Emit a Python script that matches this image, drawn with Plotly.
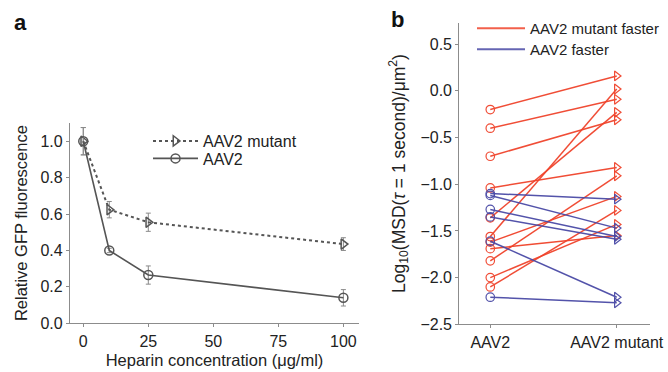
import plotly.graph_objects as go

# ---------- Panel a data ----------
heparin = [0, 10, 25, 100]
mutant_gfp = [1.0, 0.624, 0.555, 0.435]
mutant_err = [0.075, 0.045, 0.05, 0.035]
aav2_gfp = [1.0, 0.40, 0.265, 0.14]
aav2_err = [0.075, 0.012, 0.05, 0.045]
a_xticks = [0, 25, 50, 75, 100]
a_yticks = [0.0, 0.2, 0.4, 0.6, 0.8, 1.0]

# ---------- Panel b data ----------
b_categories = ["AAV2", "AAV2 mutant"]
red_aav2 = [-0.20, -0.40, -0.70, -1.04, -1.36, -1.56, -1.62, -1.69, -1.82, -2.00, -2.10]
red_mutant = [0.16, -0.09, -0.31, -0.82, -0.23, 0.02, -1.13, -1.55, -0.91, -1.43, -1.28]
blue_aav2 = [-1.10, -1.12, -1.27, -1.35, -1.61, -2.21]
blue_mutant = [-1.16, -1.47, -1.56, -1.59, -2.21, -2.27]
b_yticks = [-2.5, -2.0, -1.5, -1.0, -0.5, 0.0, 0.5]

RED = "#f0442c"
BLUE = "#4a4aa6"
GRAY = "#555555"
FONT = "Liberation Sans, Arial, Helvetica, sans-serif"
FS = 16

fig = go.Figure()

# Panel a traces
fig.add_trace(go.Scatter(
    x=heparin, y=mutant_gfp, name="AAV2 mutant", mode="lines+markers",
    line=dict(color=GRAY, width=2, dash="dot"),
    marker=dict(symbol="triangle-right-open", size=9, color=GRAY, line=dict(width=1.5)),
    error_y=dict(type="data", array=mutant_err, color="#8a8a8a", thickness=1, width=2.5),
    xaxis="x", yaxis="y", legend="legend"))
fig.add_trace(go.Scatter(
    x=heparin, y=aav2_gfp, name="AAV2", mode="lines+markers",
    line=dict(color=GRAY, width=1.6),
    marker=dict(symbol="circle-open", size=9, color=GRAY, line=dict(width=1.5)),
    error_y=dict(type="data", array=aav2_err, color="#8a8a8a", thickness=1, width=2.5),
    xaxis="x", yaxis="y", legend="legend3"))

# Panel b traces
def add_pairs(lefts, rights, color, name, legend_id):
    for l, r in zip(lefts, rights):
        fig.add_trace(go.Scatter(
            x=[0, 1], y=[l, r], mode="lines+markers", name=name,
            line=dict(color=color, width=1.5),
            marker=dict(symbol=["circle-open", "triangle-right-open"], size=8.5,
                        color=color, line=dict(width=1.2)),
            opacity=0.95, showlegend=False, xaxis="x2", yaxis="y2"))
    fig.add_trace(go.Scatter(
        x=[None], y=[None], mode="lines", name=name,
        line=dict(color=color, width=1.8), opacity=0.85,
        xaxis="x2", yaxis="y2", legend=legend_id))

add_pairs(red_aav2, red_mutant, RED, "AAV2 mutant faster", "legend2")
add_pairs(blue_aav2, blue_mutant, BLUE, "AAV2 faster", "legend4")

W, H = 668, 372
def px(v): return v / W
def py(v): return 1 - v / H

axis_common = dict(showline=True, linecolor="#8c8c8c", linewidth=1.2,
                   ticks="outside", ticklen=3, tickcolor="#8c8c8c",
                   showgrid=False, zeroline=False, automargin=False,
                   tickfont=dict(size=FS, color="#222", family=FONT))

legend_common = dict(xanchor="left", yanchor="top", bgcolor="rgba(0,0,0,0)",
                     tracegroupgap=0, borderwidth=0)

fig.update_layout(
    width=W, height=H,
    margin=dict(l=0, r=0, t=0, b=0, autoexpand=False),
    paper_bgcolor="white", plot_bgcolor="white",
    font=dict(family=FONT, size=FS, color="#222"),
    xaxis=dict(domain=[px(70), px(359)], range=[-5.1, 106], tickvals=a_xticks,
               anchor="y",
               title=dict(text="Heparin concentration (μg/ml)", standoff=5,
                          font=dict(size=16.5)), **axis_common),
    yaxis=dict(domain=[py(323.3), py(123)], range=[0, 1.10], tickvals=a_yticks,
               tickformat=".1f", anchor="x",
               title=dict(text="Relative GFP fluorescence", standoff=8,
                          font=dict(size=16.5)), **axis_common),
    xaxis2=dict(domain=[px(459.3), px(650)], range=[-0.245, 1.263],
                tickvals=[0, 1], ticktext=b_categories, anchor="y2",
                **axis_common),
    yaxis2=dict(domain=[py(324.3), py(22.7)], range=[-2.5, 0.73], tickvals=b_yticks,
                tickformat=".1f", anchor="x2",
                title=dict(text="Log<sub>10</sub>(MSD(<i>τ</i> = 1 second)/μm<sup>2</sup>)",
                           standoff=10, font=dict(size=17.5)), **axis_common),
    legend=dict(x=px(148), y=py(124), itemwidth=45, font=dict(size=16), **legend_common),
    legend3=dict(x=px(148), y=py(141.5), itemwidth=45, font=dict(size=16), **legend_common),
    legend2=dict(x=px(472), y=py(12), itemwidth=48, font=dict(size=15), **legend_common),
    legend4=dict(x=px(472), y=py(33), itemwidth=48, font=dict(size=15), **legend_common),
    annotations=[
        dict(text="<b>a</b>", x=px(12), y=py(23), xref="paper", yref="paper",
             xanchor="left", yanchor="middle", showarrow=False,
             font=dict(size=22, color="#111")),
        dict(text="<b>b</b>", x=px(389), y=py(20), xref="paper", yref="paper",
             xanchor="left", yanchor="middle", showarrow=False,
             font=dict(size=22, color="#111")),
    ],
)

fig.write_html("out.html", config={"displayModeBar": False},
               post_script="document.body.style.margin='0';"
                           "document.body.style.overflow='hidden';")
